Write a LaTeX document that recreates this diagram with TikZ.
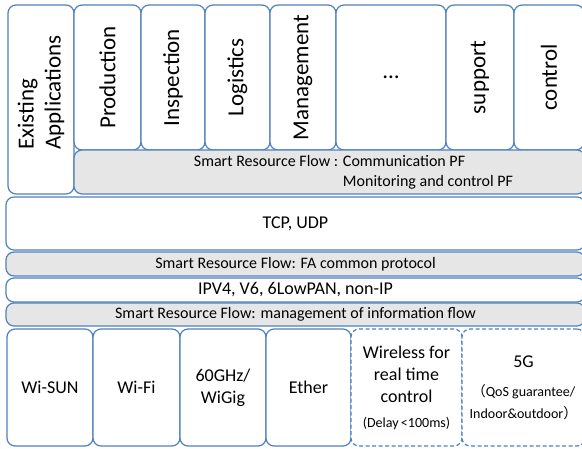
\documentclass[tikz,border=0pt]{standalone}
\usepackage{fontspec}
\setmainfont{Carlito}
\newfontfamily\cjk{Noto Sans CJK JP}
\usetikzlibrary{positioning}
\definecolor{edgeblue}{HTML}{4F81BD}
\definecolor{flowgray}{HTML}{E6E6E6}
\newcommand{\notesize}{\fontsize{14}{17}\selectfont}

\begin{document}
\begin{tikzpicture}[
  x=1pt, y=1pt,
  box/.style={draw=edgeblue, line width=1.2pt, rounded corners=8pt, fill=white, inner sep=0pt, outer sep=0pt, align=center},
  appbox/.style={box, minimum height=145pt},
  vlabel/.style={rotate=90, align=left, font=\fontsize{23}{27}\selectfont},
  flowbox/.style={box, fill=flowgray, font=\fontsize{16}{20}\selectfont},
  layerbox/.style={box, font=\fontsize{18}{22}\selectfont},
  linkbox/.style={box, minimum height=117pt, font=\fontsize{18}{22}\selectfont},
  newlinkbox/.style={linkbox, dash pattern=on 4pt off 2.5pt}
]
\path[use as bounding box, fill=white] (0,0) rectangle (582,-448);

% application layer
\node[box, minimum width=66pt, minimum height=189pt, anchor=north west] (exist) at (8,-5) {};
\node[vlabel] (existtxt) at ([yshift=7pt]exist.center) {Existing\\Applications};
\node[appbox, minimum width=67pt, anchor=north west] (prod) at (exist.north east) {};
\node[appbox, minimum width=64pt, right=0pt of prod] (insp) {};
\node[appbox, minimum width=65pt, right=0pt of insp] (logi) {};
\node[appbox, minimum width=66pt, right=0pt of logi] (mgmt) {};
\node[appbox, minimum width=110pt, right=0pt of mgmt] (more) {};
\node[appbox, minimum width=68pt, right=0pt of more] (supp) {};
\node[appbox, minimum width=70pt, right=0pt of supp] (ctrl) {};
\node[vlabel] (prodtxt) at (prod) {Production};
\node[vlabel] (insptxt) at (insp) {Inspection};
\node[vlabel] (logitxt) at (logi) {Logistics};
\node[vlabel] (mgmttxt) at (mgmt) {Management};
\node[font=\fontsize{23}{27}\selectfont] (moretxt) at (more) {\dots};
\node[vlabel] (supptxt) at (supp) {support};
\node[vlabel] (ctrltxt) at (ctrl) {control};

% platform
\node[flowbox, minimum width=511pt, minimum height=44pt, anchor=north west] (commpf) at (prod.south west) {};
\node[font=\fontsize{16}{20}\selectfont] (commtxt) at ([xshift=24pt]commpf.center)
  {Smart Resource Flow : \begin{tabular}[t]{@{}l@{}}Communication PF\\Monitoring and control PF\end{tabular}};

% transport / network
\node[layerbox, minimum width=579pt, minimum height=53pt, anchor=north west] (tcp) at (6,-197) {TCP, UDP};
\node[flowbox, minimum width=579pt, minimum height=24pt, below=2pt of tcp] (fa) {Smart Resource Flow: FA common protocol};
\node[layerbox, minimum width=579pt, minimum height=24pt, below=2pt of fa] (ip) {IPV4, V6, 6LowPAN, non-IP};
\node[flowbox, minimum width=579pt, minimum height=23pt, below=1pt of ip] (infoflow) {Smart Resource Flow: management of information flow};

% links
\node[linkbox, minimum width=86pt, anchor=north west] (wisun) at (7,-329) {Wi-SUN};
\node[linkbox, minimum width=87pt, right=0pt of wisun] (wifi) {Wi-Fi};
\node[linkbox, minimum width=86pt, right=0pt of wifi] (wigig) {60GHz/\\WiGig};
\node[linkbox, minimum width=85pt, right=0pt of wigig] (ether) {Ether};
\node[newlinkbox, minimum width=111pt, right=0pt of ether] (rtctrl)
  {Wireless for\\real time\\control\\[3pt]{\notesize (Delay\,<100ms)}};
\node[newlinkbox, minimum width=123pt, right=0pt of rtctrl] (fiveg)
  {5G\\[7pt]{\notesize{\cjk （}QoS guarantee/}\\{\notesize Indoor\&outdoor{\cjk ）}}};
\end{tikzpicture}
\end{document}
